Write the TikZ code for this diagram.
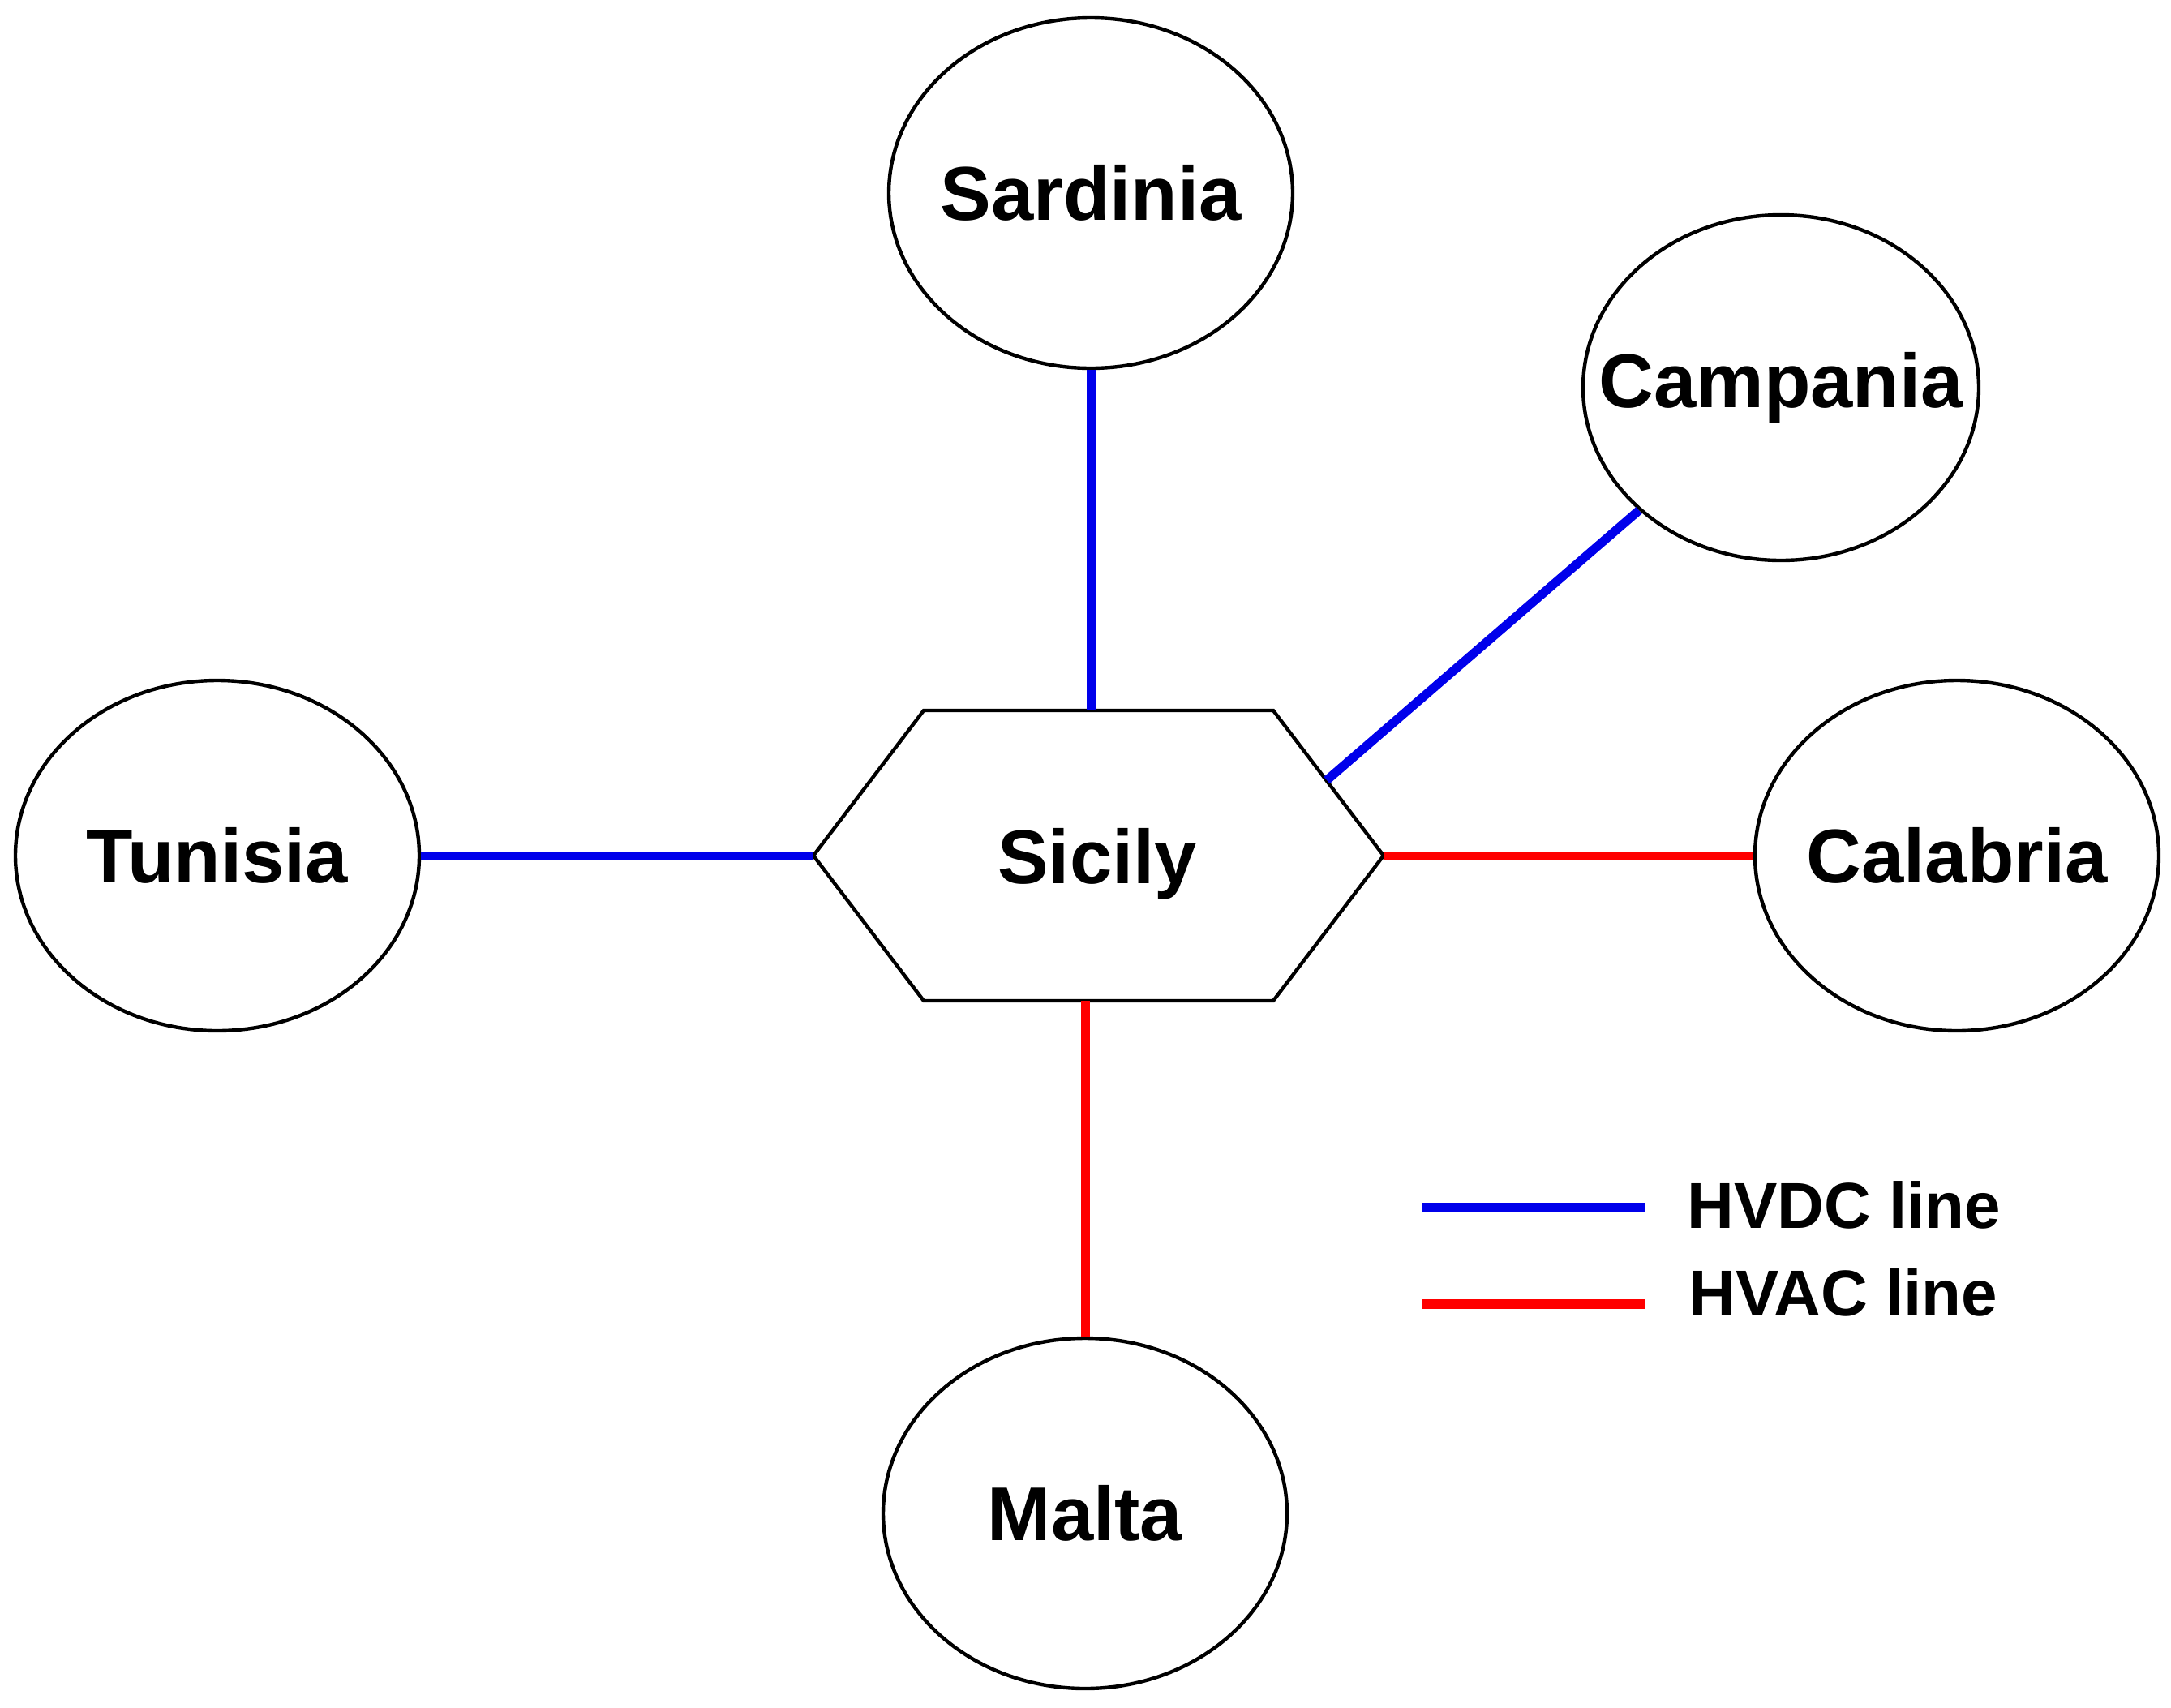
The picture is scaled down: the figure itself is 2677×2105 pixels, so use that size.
\documentclass[tikz,border=0pt]{standalone}
\usepackage{fontspec}
\setmainfont{Liberation Sans}
\usetikzlibrary{shapes.geometric}
\definecolor{hvdc}{RGB}{0,0,235}
\definecolor{hvac}{RGB}{255,0,0}
\begin{document}
\begin{tikzpicture}[x=0.5pt,y=-0.5pt,
  region/.style={draw, line width=2.2pt, ellipse, inner sep=0pt,
    minimum width=249pt, minimum height=216pt,
    font=\fontsize{47}{56}\selectfont\bfseries},
  dcline/.style={draw=hvdc, line width=5.5pt},
  acline/.style={draw=hvac, line width=5.5pt},
  hexline/.style={line width=2.2pt, line join=miter},
  legtext/.style={anchor=west, inner sep=0pt,
    font=\fontsize{40}{48}\selectfont\bfseries}]
\useasboundingbox (0,0) rectangle (2677,2105);
% regions
\node[region] (sard) at (1345,238) {\makebox[0pt]{Sardinia}};
\node[region, minimum width=244pt, minimum height=213pt] (camp) at (2196,478) {\makebox[0pt]{Campania}};
\node[region] (tun) at (268,1055) {\makebox[0pt]{Tunisia}};
\node[region] (cal) at (2413,1055) {\makebox[0pt]{Calabria}};
\node[region] (malta) at (1338,1866) {\makebox[0pt]{Malta}};
% Sicily hexagon
\coordinate (hL) at (1003,1055);
\coordinate (hTL) at (1139,876);
\coordinate (hTR) at (1570,876);
\coordinate (hR) at (1706,1055);
\coordinate (hBR) at (1570,1234);
\coordinate (hBL) at (1139,1234);
\draw[hexline] (hL) -- (hTL) -- (hTR) -- (hR) -- (hBR) -- (hBL) -- cycle;
\node[font=\fontsize{47}{56}\selectfont\bfseries, text depth=0pt] (sic) at (1353,1055) {Sicily};
\coordinate (sicNE) at (1636,962);
% connectors
\draw[dcline] (sard.south) -- (sard.south |- hTL);
\draw[dcline] (sicNE) -- (camp);
\draw[dcline] (tun.east) -- (hL);
\draw[acline] (hR) -- (cal.west);
\draw[acline] (malta.north) -- (malta.north |- hBL);
% legend
\coordinate (l1a) at (1753,1489);
\coordinate (l1b) at (2029,1489);
\coordinate (l2a) at (1753,1608);
\coordinate (l2b) at (2029,1608);
\draw[dcline, line width=6pt] (l1a) -- (l1b);
\draw[acline, line width=6pt] (l2a) -- (l2b);
\node[legtext] (l1t) at (2080,1486) {HVDC line};
\node[legtext] (l2t) at (2082,1594) {HVAC line};
\end{tikzpicture}
\end{document}
